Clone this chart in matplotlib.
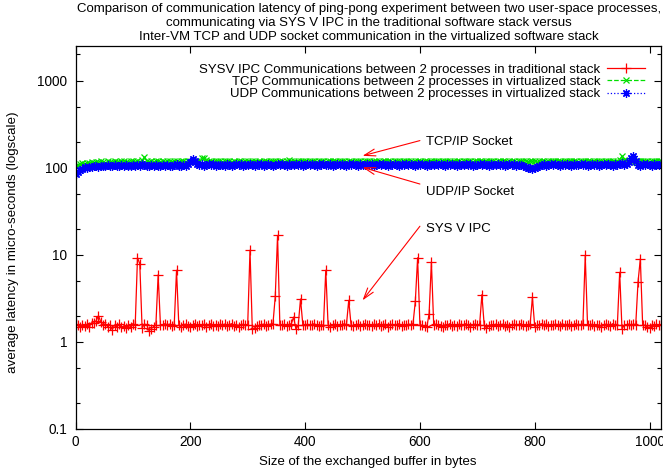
import numpy as np
import matplotlib
matplotlib.use('Agg')
from matplotlib import pyplot as plt
from matplotlib.ticker import FixedLocator, NullFormatter

plt.rcParams['font.family'] = ['Liberation Sans', 'DejaVu Sans']

# buffer sizes (bytes)
sizes = np.arange(0, 1021, 4)

# SYS V IPC latency (us)
ipc = [
    1.62, 1.55, 1.48, 1.58, 1.52, 1.60, 1.50, 1.66, 1.65, 1.75, 2.00, 1.70, 1.56, 1.62, 1.50, 1.58,
    1.38, 1.55, 1.50, 1.60, 1.47, 1.52, 1.44, 1.58, 1.50, 1.62, 1.55, 9.25, 7.90, 1.45, 1.60, 1.58,
    1.35, 1.42, 1.50, 1.55, 5.90, 1.55, 1.58, 1.62, 1.56, 1.60, 1.52, 1.58, 6.65, 1.55, 1.50, 1.58,
    1.60, 1.54, 1.48, 1.56, 1.62, 1.52, 1.58, 1.55, 1.60, 1.50, 1.57, 1.62, 1.54, 1.58, 1.52, 1.60,
    1.55, 1.60, 1.52, 1.57, 1.62, 1.54, 1.58, 1.50, 1.56, 1.60, 1.55, 1.58, 11.3, 1.40, 1.45, 1.52,
    1.55, 1.58, 1.60, 1.54, 1.57, 1.60, 1.62, 3.33, 16.7, 1.58, 1.55, 1.60, 1.52, 1.58, 1.62, 1.93,
    1.40, 1.55, 3.11, 1.58, 1.55, 1.60, 1.56, 1.58, 1.62, 1.55, 1.52, 1.58, 1.55, 6.65, 1.58, 1.50,
    1.56, 1.60, 1.53, 1.58, 1.55, 1.62, 1.57, 3.00, 1.58, 1.52, 1.56, 1.60, 1.54, 1.58, 1.62, 1.55,
    1.58, 1.52, 1.60, 1.55, 1.62, 1.54, 1.57, 1.60, 1.50, 1.56, 1.60, 1.55, 1.58, 1.62, 1.54, 1.58,
    1.55, 1.60, 1.58, 1.62, 2.92, 9.25, 1.58, 1.55, 1.52, 1.48, 2.10, 8.30, 1.58, 1.60, 1.55, 1.52,
    1.50, 1.58, 1.55, 1.62, 1.54, 1.57, 1.52, 1.60, 1.58, 1.55, 1.62, 1.56, 1.50, 1.58, 1.60, 1.55,
    1.58, 3.49, 1.55, 1.45, 1.52, 1.58, 1.55, 1.60, 1.52, 1.56, 1.60, 1.54, 1.58, 1.50, 1.55, 1.60,
    1.55, 1.58, 1.62, 1.55, 1.52, 1.56, 1.60, 3.25, 1.50, 1.55, 1.58, 1.62, 1.56, 1.60, 1.52, 1.58,
    1.55, 1.60, 1.58, 1.54, 1.62, 1.57, 1.55, 1.60, 1.52, 1.58, 1.62, 1.55, 1.58, 1.60, 9.84, 1.58,
    1.55, 1.60, 1.52, 1.58, 1.56, 1.50, 1.55, 1.60, 1.58, 1.54, 1.62, 1.55, 1.58, 6.30, 1.42, 1.55,
    1.58, 1.60, 1.55, 1.60, 1.58, 4.89, 9.00, 1.58, 1.55, 1.50, 1.45, 1.56, 1.52, 1.60, 1.55, 1.58,
]

# inter-VM TCP latency (us)
tcp = [
    106, 108, 110, 112, 110, 114, 113, 116, 114, 117, 115, 118, 116, 114, 118, 117,
    116, 119, 117, 115, 118, 120, 117, 116, 119, 118, 116, 120, 117, 122, 132, 118,
    117, 119, 116, 118, 120, 117, 119, 116, 118, 121, 117, 119, 118, 116, 120, 118,
    117, 119, 121, 118, 116, 120, 118, 128, 130, 122, 118, 120, 117, 119, 121, 118,
    116, 119, 118, 121, 117, 119, 116, 120, 118, 117, 121, 119, 116, 118, 120, 117,
    119, 117, 121, 118, 116, 120, 118, 119, 117, 121, 118, 116, 119, 122, 118, 120,
    117, 119, 121, 118, 120, 117, 119, 118, 121, 117, 119, 120, 118, 116, 119, 121,
    118, 120, 117, 119, 121, 118, 116, 120, 119, 117, 121, 118, 120, 117, 119, 118,
    120, 117, 119, 121, 118, 116, 119, 120, 118, 121, 117, 119, 118, 120, 117, 119,
    121, 118, 120, 117, 119, 118, 121, 117, 120, 118, 116, 119, 121, 118, 120, 117,
    119, 121, 118, 120, 117, 119, 118, 121, 117, 120, 118, 119, 121, 117, 119, 120,
    118, 120, 117, 119, 121, 118, 120, 117, 119, 118, 121, 119, 117, 120, 118, 121,
    117, 119, 120, 118, 121, 117, 119, 118, 120, 116, 118, 121, 119, 117, 120, 118,
    120, 118, 121, 119, 117, 120, 118, 119, 121, 118, 120, 117, 119, 121, 118, 120,
    119, 117, 120, 118, 121, 119, 117, 120, 118, 121, 119, 117, 120, 124, 136, 122,
    119, 121, 118, 120, 117, 119, 121, 118, 120, 119, 117, 121, 118, 120, 119, 121,
]

# inter-VM UDP latency (us)
udp = [
    85, 90, 95, 98, 101, 100, 103, 102, 105, 104, 103, 106, 105, 104, 107, 106,
    105, 107, 104, 106, 108, 105, 107, 106, 104, 108, 106, 107, 105, 109, 107, 106,
    104, 107, 105, 108, 106, 104, 107, 105, 108, 106, 104, 107, 109, 106, 105, 108,
    106, 109, 116, 126, 120, 110, 107, 109, 106, 108, 110, 107, 109, 106, 108, 107,
    108, 106, 109, 107, 105, 108, 110, 107, 109, 106, 108, 107, 110, 108, 106, 109,
    107, 109, 106, 108, 110, 107, 105, 108, 109, 107, 110, 108, 106, 109, 107, 108,
    110, 107, 109, 106, 108, 110, 107, 109, 108, 106, 109, 107, 110, 108, 107, 109,
    106, 108, 110, 107, 109, 108, 106, 109, 107, 110, 108, 106, 109, 107, 108, 110,
    107, 109, 106, 108, 110, 107, 109, 108, 106, 109, 107, 110, 108, 106, 109, 108,
    110, 107, 109, 108, 106, 109, 107, 110, 108, 106, 109, 107, 108, 110, 107, 109,
    108, 106, 109, 107, 110, 108, 106, 109, 107, 108, 110, 107, 109, 106, 108, 107,
    109, 107, 110, 108, 106, 109, 107, 108, 110, 107, 109, 106, 108, 110, 107, 109,
    106, 108, 107, 104, 102, 100, 99, 98, 100, 103, 105, 107, 109, 106, 108, 110,
    107, 109, 108, 106, 109, 107, 110, 108, 106, 109, 107, 108, 110, 107, 109, 106,
    108, 110, 107, 109, 106, 108, 110, 107, 109, 108, 106, 109, 107, 110, 112, 108,
    109, 116, 128, 135, 118, 108, 106, 109, 107, 110, 108, 106, 109, 107, 108, 110,
]

labels = ['SYSV IPC Communications between 2 processes in traditional stack',
          'TCP Communications between 2 processes in virtualized stack',
          'UDP Communications between 2 processes in virtualized stack']

FS = 9.5

W, H = 663, 472
fig = plt.figure(figsize=(W / 100, H / 100), dpi=100)
ax = fig.add_axes([75.5 / W, 1 - 429 / H, (661 - 75.5) / W, (429 - 46) / H])

ax.plot(sizes, ipc, color='#ff0000', lw=0.9, marker='+', ms=6.5, mew=0.9, label=labels[0])
ax.plot(sizes, tcp, color='#00e000', lw=0.9, ls='--', marker='x', ms=5, mew=0.9, label=labels[1])
ax.plot(sizes, udp, color='#0000ff', lw=0.9, ls=':', marker=(8, 2, 0), ms=6, mew=0.9, label=labels[2])

ax.set_yscale('log')
ax.set_xlim(0, 1020)
ax.set_ylim(0.1, 2500)

ax.xaxis.set_major_locator(FixedLocator([0, 200, 400, 600, 800, 1000]))
ax.yaxis.set_major_locator(FixedLocator([0.1, 1, 10, 100, 1000]))
ax.set_yticklabels(['0.1', '1', '10', '100', '1000'])
minor = [m * 10.0 ** e for e in range(-1, 4) for m in (2, 5)]
ax.yaxis.set_minor_locator(FixedLocator(minor))
ax.yaxis.set_minor_formatter(NullFormatter())
ax.tick_params(which='both', direction='in', top=True, right=True, labelsize=9.8, width=0.8)
ax.tick_params(which='major', length=5)
ax.tick_params(which='minor', length=3)
ax.tick_params(axis='y', pad=6)
ax.tick_params(axis='x', pad=4)
for s in ax.spines.values():
    s.set_linewidth(0.9)

# annotations
arrow = dict(arrowstyle='->,head_length=0.8,head_width=0.25', color='#ff0000', lw=0.8,
             shrinkA=0, shrinkB=0)
ax.annotate('', xy=(500, 137), xytext=(600, 205), arrowprops=arrow)
ax.annotate('', xy=(500, 101), xytext=(600, 65), arrowprops=arrow)
ax.annotate('', xy=(500, 3.0), xytext=(600, 21.3), arrowprops=arrow)
ax.text(610, 199, 'TCP/IP Socket', fontsize=FS, va='center', ha='left')
ax.text(610, 52, 'UDP/IP Socket', fontsize=FS, va='center', ha='left')
ax.text(610, 20, 'SYS V IPC', fontsize=FS, va='center', ha='left')

ax.legend(loc='upper right', bbox_to_anchor=(0.9727, 0.954), frameon=False, markerfirst=False,
          numpoints=1, fontsize=FS, handlelength=2.9, handletextpad=0.5, labelspacing=0.0,
          borderpad=0, borderaxespad=0)

fig.text(369 / W, 1 - 23 / H,
         'Comparison of communication latency of ping-pong experiment between two user-space processes,\n'
         'communicating via SYS V IPC in the traditional software stack versus\n'
         'Inter-VM TCP and UDP socket communication in the virtualized software stack',
         ha='center', va='center', fontsize=FS, linespacing=1.2)
fig.text(368 / W, 1 - 462 / H, 'Size of the exchanged buffer in bytes', ha='center', va='center', fontsize=FS)
fig.text(13 / W, 1 - 242 / H, 'average latency in micro-seconds (logscale)', rotation=90,
         ha='center', va='center', fontsize=9.6)

fig.savefig('out.png', dpi=100)
